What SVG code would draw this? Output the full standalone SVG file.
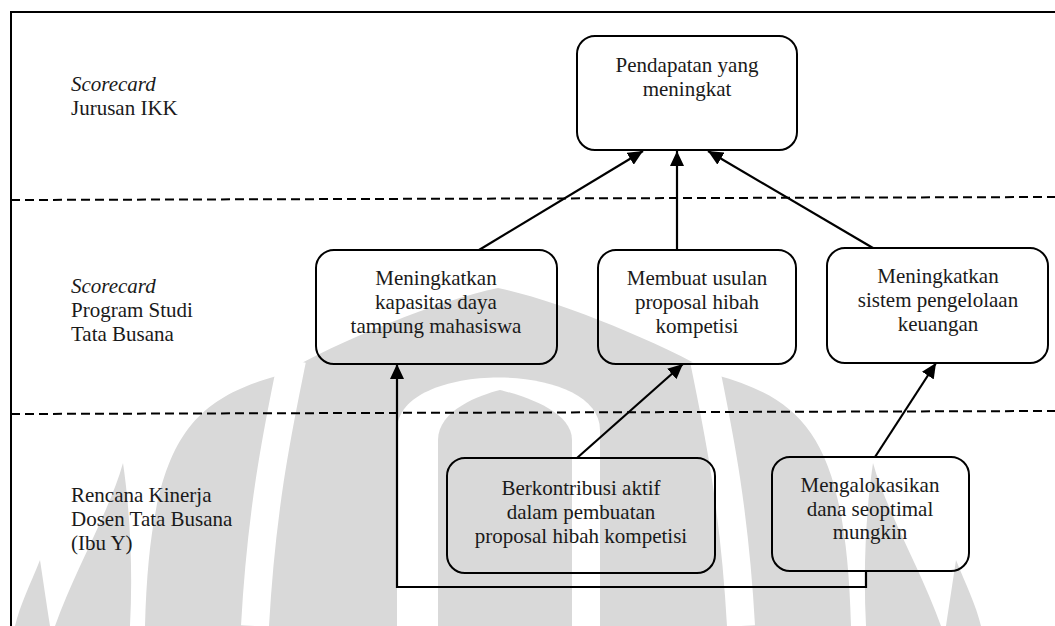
<svg xmlns="http://www.w3.org/2000/svg" width="1055" height="626" viewBox="0 0 1055 626">
<style>
  .box { fill: none; stroke: #000; stroke-width: 2; }
  .t { font-family: "Liberation Serif", "Times New Roman", serif; font-size: 21px; fill: #1a1a1a; }
  .c { text-anchor: middle; }
  .i { font-style: italic; }
  .dash { stroke: #000; stroke-width: 2; stroke-dasharray: 9 5; fill: none; }
  .conn { stroke: #000; stroke-width: 2.2; fill: none; }
  .wm { fill: #d9d9d9; }
  .wg { fill: none; stroke: #fff; }
</style>
<defs>
  <marker id="ah" markerUnits="userSpaceOnUse" markerWidth="16" markerHeight="14" refX="15" refY="7" orient="auto">
    <path d="M0,0 L15,7 L0,14 Z" fill="#000"/>
  </marker>
</defs>
<rect width="1055" height="626" fill="#fff"/>
<g id="watermark">
  <path class="wm" d="M 498 288 C 440 300, 340 340, 280 375 C 190 400, 150 440, 145 626 L 851 626 C 846 440, 806 400, 716 375 C 656 340, 556 300, 498 288 Z"/>
  <path class="wm" d="M 123 463 C 110 510, 75 570, 55 626 L 130 626 C 133 570, 130 510, 123 463 Z"/>
  <path class="wm" d="M 873 463 C 886 510, 921 570, 941 626 L 866 626 C 863 570, 866 510, 873 463 Z"/>
  <path class="wm" d="M 40 560 C 30 585, 20 605, 15 626 L 50 626 C 46 600, 43 580, 40 560 Z"/>
  <path class="wm" d="M 956 560 C 966 585, 976 605, 981 626 L 946 626 C 950 600, 953 580, 956 560 Z"/>
  <path class="wg" stroke-width="28" d="M 292 360 C 280 420, 262 500, 255 626"/>
  <path class="wg" stroke-width="28" d="M 704 360 C 716 420, 734 500, 741 626"/>
  <path fill="#fff" d="M 397 626 L 397 430 C 397 360, 600 360, 600 430 L 600 626 Z"/>
  <path class="wm" d="M 438 626 L 438 440 C 438 410, 480 395, 500 390 C 520 395, 572 410, 572 440 L 572 626 Z"/>
</g>
<g id="frame">
  <path d="M 11 626 L 11 12 L 1055 12" fill="none" stroke="#000" stroke-width="2"/>
  <line class="dash" x1="11" y1="200" x2="1055" y2="197"/>
  <line class="dash" x1="11" y1="414" x2="1055" y2="411"/>
</g>
<g id="labels">
  <text class="t i" x="71" y="91">Scorecard</text>
  <text class="t" x="71" y="115">Jurusan IKK</text>
  <text class="t i" x="71" y="293">Scorecard</text>
  <text class="t" x="71" y="317">Program Studi</text>
  <text class="t" x="71" y="341">Tata Busana</text>
  <text class="t" x="71" y="502">Rencana Kinerja</text>
  <text class="t" x="71" y="526">Dosen Tata Busana</text>
  <text class="t" x="71" y="550">(Ibu Y)</text>
</g>
<g id="connectors">
  <line class="conn" x1="479" y1="250" x2="643" y2="151" marker-end="url(#ah)"/>
  <line class="conn" x1="677" y1="250" x2="677" y2="151" marker-end="url(#ah)"/>
  <line class="conn" x1="873" y1="248" x2="708" y2="151" marker-end="url(#ah)"/>
  <line class="conn" x1="577" y1="458" x2="683" y2="364" marker-end="url(#ah)"/>
  <line class="conn" x1="875" y1="457" x2="936" y2="363" marker-end="url(#ah)"/>
  <polyline class="conn" points="866,571 866,587 397,587 397,364" marker-end="url(#ah)"/>
</g>
<g id="n-top">
  <rect class="box" x="577" y="36" width="220" height="114" rx="18"/>
  <text class="t c" x="687" y="72">Pendapatan yang</text>
  <text class="t c" x="687" y="96">meningkat</text>
</g>
<g id="n-kapasitas">
  <rect class="box" x="316" y="250" width="241" height="114" rx="18"/>
  <text class="t c" x="436" y="285">Meningkatkan</text>
  <text class="t c" x="436" y="309">kapasitas daya</text>
  <text class="t c" x="436" y="333">tampung mahasiswa</text>
</g>
<g id="n-usulan">
  <rect class="box" x="598" y="250" width="198" height="114" rx="18"/>
  <text class="t c" x="697" y="285">Membuat usulan</text>
  <text class="t c" x="697" y="309">proposal hibah</text>
  <text class="t c" x="697" y="333">kompetisi</text>
</g>
<g id="n-keuangan">
  <rect class="box" x="827" y="248" width="221" height="115" rx="18"/>
  <text class="t c" x="938" y="283">Meningkatkan</text>
  <text class="t c" x="938" y="307">sistem pengelolaan</text>
  <text class="t c" x="938" y="331">keuangan</text>
</g>
<g id="n-kontribusi">
  <rect class="box" x="447" y="458" width="268" height="115" rx="18"/>
  <text class="t c" x="581" y="495">Berkontribusi aktif</text>
  <text class="t c" x="581" y="519">dalam pembuatan</text>
  <text class="t c" x="581" y="543">proposal hibah kompetisi</text>
</g>
<g id="n-dana">
  <rect class="box" x="772" y="457" width="197" height="114" rx="18"/>
  <text class="t c" x="870" y="492">Mengalokasikan</text>
  <text class="t c" x="870" y="516">dana seoptimal</text>
  <text class="t c" x="870" y="539">mungkin</text>
</g>
</svg>
